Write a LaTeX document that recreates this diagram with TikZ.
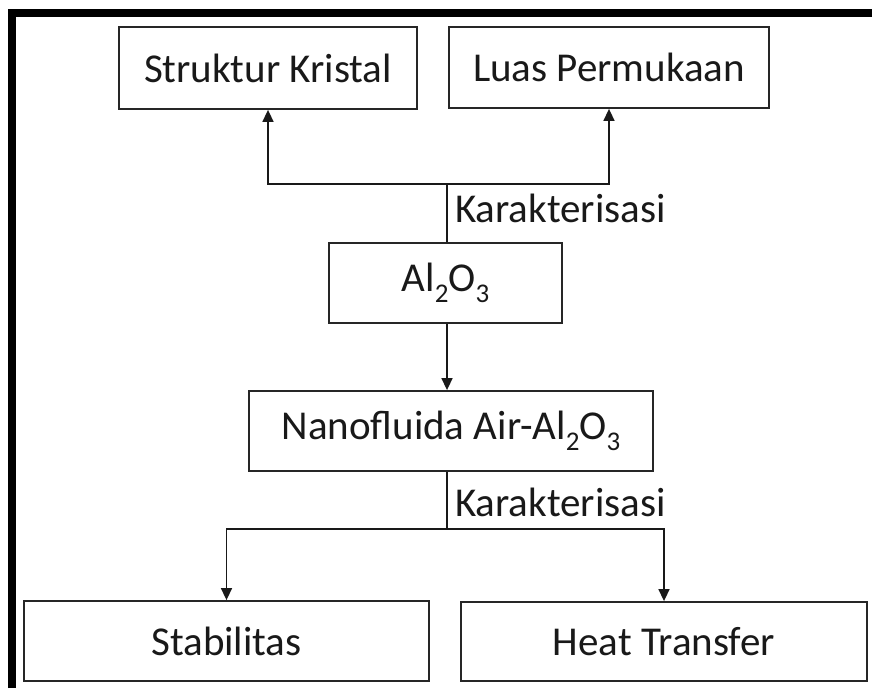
\documentclass[tikz,border=0pt]{standalone}
\usepackage{fontspec}
\setmainfont{Carlito}
\usetikzlibrary{arrows.meta}
\newcommand{\sbs}[1]{\raisebox{-0.28em}{\fontsize{27}{30}\selectfont #1}}
\tikzset{
  box/.style={draw=black!85, line width=1.8pt, inner sep=0pt, text=black!90,
    font=\fontsize{41}{49}\selectfont},
  conn/.style={draw=black!90, line width=1.5pt},
  arr/.style={conn, -{Triangle[width=11pt,length=12pt]}},
  lbl/.style={inner sep=0pt, anchor=base west, text=black!90, font=\fontsize{41}{49}\selectfont}
}
\begin{document}
\begin{tikzpicture}[x=1pt,y=1pt]
\useasboundingbox (0,0) rectangle (872,688);
\fill[white] (0,0) rectangle (872,688);
% frame (cropped on right and bottom)
\draw[line width=8pt, line join=miter] (12,0) -- (12,675) -- (872,675);

\node[box, minimum width=298pt, minimum height=82pt] (SK) at (268,620) {Struktur Kristal};
\node[box, minimum width=320pt, minimum height=81pt] (LP) at (609,620.5) {Luas Permukaan};
\node[box, minimum width=233pt, minimum height=80pt] (AL) at (445.5,405) {Al\sbs{2}O\sbs{3}};
\node[box, minimum width=404pt, minimum height=80pt] (NF) at (451,257) {Nanofluida Air-Al\sbs{2}O\sbs{3}};
\node[box, minimum width=405pt, minimum height=80pt] (ST) at (226.5,47) {Stabilitas};
\node[box, minimum width=406pt, minimum height=79pt] (HT) at (664,46.5) {Heat Transfer};

\coordinate (j1) at (447,504);
\coordinate (j2) at (447,159);

\draw[conn] (j1 |- AL.north) -- (j1);
\draw[arr] (j1) -| (SK.south);
\draw[arr] (j1) -| (LP.south);
\draw[arr] (j1 |- AL.south) -- (j1 |- NF.north);
\draw[conn] (j1 |- NF.south) -- (j2);
\draw[arr] (j2) -| (ST.north);
\draw[arr] (j2) -| (HT.north);

\node[lbl] (k1) at (455,465) {Karakterisasi};
\node[lbl] (k2) at (455,171) {Karakterisasi};
\end{tikzpicture}
\end{document}
